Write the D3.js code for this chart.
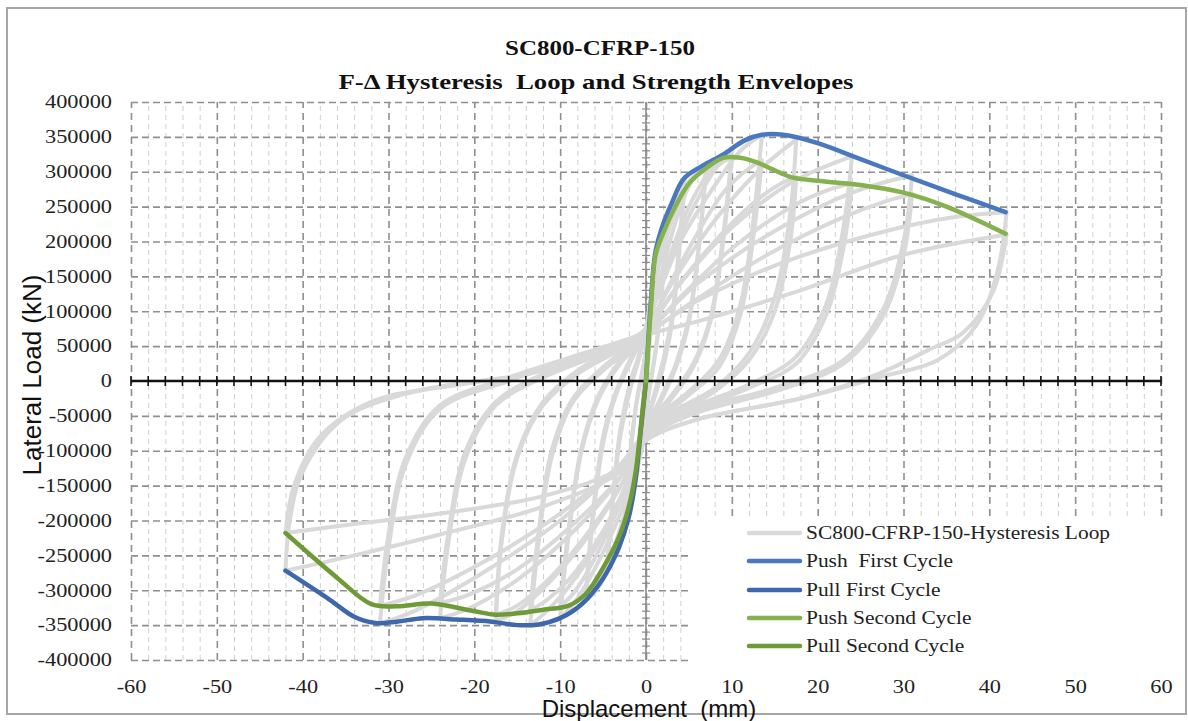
<!DOCTYPE html>
<html><head><meta charset="utf-8">
<script src="https://cdn.jsdelivr.net/npm/d3@7"></script>
<style>
html,body{margin:0;padding:0;background:#fff;}
svg{display:block;}
</style></head>
<body>
<script>
// ---------- Data ----------
const titleLines = ["SC800-CFRP-150", "F-\u0394 Hysteresis  Loop and Strength Envelopes"];
const xTicks = [-60,-50,-40,-30,-20,-10,0,10,20,30,40,50,60];
const yTicks = [-400000,-350000,-300000,-250000,-200000,-150000,-100000,-50000,0,50000,100000,150000,200000,250000,300000,350000,400000];
const xMinorTicks = [-58,-56,-54,-52,-48,-46,-44,-42,-38,-36,-34,-32,-28,-26,-24,-22,-18,-16,-14,-12,-8,-6,-4,-2,2,4,6,8,12,14,16,18,22,24,26,28,32,34,36,38,42,44,46,48,52,54,56,58];
const yMinorTicks = [-390000,-380000,-370000,-360000,-340000,-330000,-320000,-310000,-290000,-280000,-270000,-260000,-240000,-230000,-220000,-210000,-190000,-180000,-170000,-160000,-140000,-130000,-120000,-110000,-90000,-80000,-70000,-60000,-40000,-30000,-20000,-10000,10000,20000,30000,40000,60000,70000,80000,90000,110000,120000,130000,140000,160000,170000,180000,190000,210000,220000,230000,240000,260000,270000,280000,290000,310000,320000,330000,340000,360000,370000,380000,390000];

// Hysteresis loop, one branch per half cycle: [displacement (mm), load]
const loopLevel1 = [
  [[0,0],[0.5,95000],[1.0,175000]],
  [[1.0,175000],[0.6,100000],[0.1,5000],[-0.5,-70000],[-1.0,-130000]],
  [[-1.0,-130000],[-0.6,-70000],[-0.1,10000],[0.5,100000],[1.0,170000]],
  [[1.0,170000],[0.6,95000],[0.1,0],[-0.5,-70000],[-1.0,-125000]],
  [[-1.0,-125000],[-0.5,-50000],[0,30000],[1.0,160000],[1.8,215000],[2.5,240000]]
];
const loopLevel2 = [
  [[2.5,240000],[2.0,160000],[1.3,60000],[0.3,-20000],[-0.8,-110000],[-1.7,-175000],[-2.5,-205000]],
  [[-2.5,-205000],[-2.0,-130000],[-1.2,-40000],[-0.2,30000],[0.8,120000],[1.7,200000],[2.5,232000]],
  [[2.5,232000],[2.0,150000],[1.2,50000],[0.2,-25000],[-0.8,-105000],[-1.7,-170000],[-2.5,-195000]],
  [[-2.5,-195000],[-2.0,-120000],[-1.1,-30000],[0,40000],[1.2,150000],[2.5,220000],[3.5,260000],[4.5,288000]]
];
const loopLevel3 = [
  [[4.5,288000],[3.9,200000],[3.0,90000],[1.8,20000],[0.5,-40000],[-0.8,-110000],[-2.0,-190000],[-3.3,-245000],[-4.5,-268000]],
  [[-4.5,-268000],[-3.9,-180000],[-3.0,-80000],[-1.8,-10000],[-0.5,45000],[0.8,120000],[2.0,200000],[3.3,260000],[4.5,280000]],
  [[4.5,280000],[3.9,190000],[3.0,80000],[1.8,10000],[0.5,-45000],[-0.8,-115000],[-2.0,-185000],[-3.3,-238000],[-4.5,-258000]],
  [[-4.5,-258000],[-3.9,-170000],[-3.0,-70000],[-1.8,0],[-0.5,50000],[1.0,140000],[3.0,230000],[5.0,285000],[7,310000]]
];
const loopLevel4 = [
  [[7,310000],[6.2,200000],[5.0,90000],[3.5,25000],[1.5,-30000],[0,-70000],[-1.5,-150000],[-3.5,-240000],[-5.5,-295000],[-7,-315000]],
  [[-7,-315000],[-6.2,-200000],[-5.0,-90000],[-3.5,-20000],[-1.5,35000],[0,70000],[1.5,140000],[3.5,230000],[5.5,290000],[7,303000]],
  [[7,303000],[6.2,195000],[5.0,85000],[3.5,20000],[1.5,-35000],[0,-75000],[-1.5,-145000],[-3.5,-230000],[-5.5,-285000],[-7,-303000]],
  [[-7,-303000],[-6.2,-190000],[-5.0,-80000],[-3.5,-15000],[-1.5,40000],[0,75000],[2,150000],[5,250000],[8,310000],[10,330000]]
];
const loopLevel5 = [
  [[10,330000],[9.0,210000],[7.5,90000],[5.5,25000],[3,-20000],[0.5,-60000],[-1,-110000],[-3,-190000],[-6,-270000],[-8.5,-320000],[-10,-340000]],
  [[-10,-340000],[-9.0,-220000],[-7.5,-100000],[-5.5,-25000],[-3,25000],[-0.5,60000],[1,110000],[3,180000],[6,260000],[8.5,310000],[10,320000]],
  [[10,320000],[9.0,200000],[7.5,85000],[5.5,20000],[3,-25000],[0.5,-65000],[-1,-105000],[-3,-175000],[-6,-255000],[-8.5,-305000],[-10,-323000]],
  [[-10,-323000],[-9.0,-210000],[-7.5,-95000],[-5.5,-20000],[-3,30000],[-0.5,65000],[1,110000],[4,200000],[8,280000],[11,330000],[13.5,353000]]
];
const loopLevel6 = [
  [[13.5,353000],[12.5,230000],[11,110000],[8.5,30000],[5,-15000],[1.5,-50000],[0,-75000],[-2,-140000],[-5,-220000],[-9,-295000],[-12,-335000],[-13.5,-350000]],
  [[-13.5,-350000],[-12.5,-230000],[-11,-110000],[-8.5,-30000],[-5,15000],[-1.5,50000],[0,70000],[2,120000],[5,190000],[9,270000],[12,305000],[13.5,316000]],
  [[13.5,316000],[12.5,205000],[11,95000],[8.5,20000],[5,-20000],[1.5,-55000],[0,-80000],[-2,-140000],[-5,-215000],[-9,-285000],[-12,-318000],[-13.5,-328000]],
  [[-13.5,-328000],[-12.5,-215000],[-11,-100000],[-8.5,-25000],[-5,20000],[-1.5,55000],[0,75000],[3,140000],[8,230000],[13,300000],[17.5,346000]]
];
const loopLevel7 = [
  [[17.5,346000],[16.8,240000],[15,120000],[12,40000],[8,-10000],[3,-45000],[0,-75000],[-2,-130000],[-6,-210000],[-11,-285000],[-15,-330000],[-17.5,-344000]],
  [[-17.5,-344000],[-16.8,-230000],[-15,-110000],[-12,-35000],[-8,10000],[-3,45000],[0,70000],[3,125000],[8,200000],[13,260000],[16,285000],[17.5,292000]],
  [[17.5,292000],[16.8,200000],[15,100000],[12,30000],[8,-15000],[3,-50000],[0,-80000],[-2,-130000],[-6,-205000],[-11,-280000],[-15,-322000],[-17.5,-335000]],
  [[-17.5,-335000],[-16.8,-220000],[-15,-105000],[-12,-30000],[-8,15000],[-3,50000],[0,75000],[4,140000],[10,220000],[17,285000],[24,322000]]
];
const loopLevel8 = [
  [[24,322000],[23,220000],[21,110000],[17.5,35000],[12,-5000],[5,-40000],[0,-75000],[-2.5,-130000],[-8,-210000],[-15,-285000],[-21,-328000],[-24,-340000]],
  [[-24,-340000],[-23,-230000],[-21,-110000],[-17.5,-35000],[-12,5000],[-5,40000],[0,70000],[4,120000],[10,190000],[17,250000],[21.5,275000],[24,283000]],
  [[24,283000],[23,190000],[21,95000],[17.5,25000],[12,-10000],[5,-45000],[0,-80000],[-2.5,-130000],[-8,-200000],[-15,-270000],[-21,-308000],[-24,-318000]],
  [[-24,-318000],[-23,-215000],[-21,-100000],[-17.5,-30000],[-12,10000],[-5,45000],[0,72000],[6,140000],[15,215000],[24,270000],[31,295000]]
];
const loopLevel9 = [
  [[31,295000],[30,200000],[27.5,100000],[23,30000],[15,-10000],[6,-40000],[0,-75000],[-3,-120000],[-10,-200000],[-19,-275000],[-27,-330000],[-31,-348000]],
  [[-31,-348000],[-30,-240000],[-28,-120000],[-24,-40000],[-16,0],[-6,40000],[0,68000],[5,110000],[14,180000],[23,235000],[28,258000],[31,268000]],
  [[31,268000],[30,180000],[27.5,90000],[23,25000],[15,-15000],[6,-45000],[0,-80000],[-3,-120000],[-10,-190000],[-19,-260000],[-27,-308000],[-31,-322000]],
  [[-31,-322000],[-30,-220000],[-28,-110000],[-24,-35000],[-16,5000],[-6,45000],[0,70000],[6,115000],[16,170000],[28,215000],[36,235000],[42,242000]]
];
const loopLevel10 = [
  [[42,242000],[41,160000],[38.5,80000],[34,30000],[27,5000],[18,-25000],[6,-55000],[0,-85000],[-3,-130000],[-12,-180000],[-24,-220000],[-34,-250000],[-42,-272000]],
  [[-42,-272000],[-41.5,-200000],[-40,-130000],[-35.5,-56000],[-28.5,-20000],[-20.5,-3000],[-12,15000],[-5,44000],[0,66000],[6.4,87000],[18,130000],[29.7,180000],[42,210000]],
  [[42,210000],[40.5,130000],[37,70000],[33,45000],[27,10000],[18,-25000],[6,-55000],[0,-85000],[-3,-125000],[-12,-165000],[-24,-190000],[-34,-205000],[-42,-218000]],
  [[-42,-218000],[-41,-150000],[-38,-80000],[-32,-30000],[-24,-8000],[-16,5000]]
];

// Strength envelopes: [displacement (mm), load]
const pushFirstCycle = [[0,0],[0.6,120000],[1.1,185000],[2.0,225000],[2.9,252000],[4.4,290000],[6.5,308000],[9,325000],[11.5,345000],[13.5,353000],[16,353000],[20,341000],[25,318000],[30,295000],[36,268000],[41.9,242000]];
const pullFirstCycle = [[0,0],[-0.6,-70000],[-1.2,-140000],[-2.0,-195000],[-3.2,-240000],[-5,-283000],[-7.5,-320000],[-10,-340000],[-12.5,-349000],[-15,-350000],[-18,-345000],[-22,-342000],[-26,-340000],[-29,-345000],[-31.5,-347000],[-34,-338000],[-36.8,-314000],[-42,-272000]];
const pushSecondCycle = [[0,0],[0.6,110000],[1.1,180000],[2.0,212000],[3.5,252000],[5,283000],[7,305000],[9,320000],[11,320000],[13,313000],[15,302000],[17,292000],[20,287000],[25,281000],[30,270000],[35,250000],[41.9,211000]];
const pullSecondCycle = [[0,0],[-0.6,-65000],[-1.2,-130000],[-2.0,-180000],[-3.2,-225000],[-5,-268000],[-7,-305000],[-9,-322000],[-12,-328000],[-15,-333000],[-17.5,-335000],[-20,-330000],[-25,-319000],[-29,-323000],[-32,-320000],[-36,-282000],[-42,-218000]];

const legendLabels = ["SC800-CFRP-150-Hysteresis Loop","Push  First Cycle","Pull First Cycle","Push Second Cycle","Pull Second Cycle"];
const legendColors = ["#d9d9d9","#4a78bf","#3f67ac","#86b14f","#6f9a38"];

// ---------- Drawing ----------
const W = 1188, H = 721;
const svg = d3.select("body").append("svg").attr("width", W).attr("height", H);
svg.append("rect").attr("width", W).attr("height", H).attr("fill", "#fff");
svg.append("rect").attr("x", 7).attr("y", 8).attr("width", 1179).attr("height", 706)
  .attr("fill", "none").attr("stroke", "#a6a6a6").attr("stroke-width", 2);

const pL = 131, pR = 1161, pT = 102, pB = 660;
const x = d3.scaleLinear().domain([-60, 60]).range([pL, pR]);
const y = d3.scaleLinear().domain([-400000, 400000]).range([pB, pT]);

const serif = "'Liberation Serif','Times New Roman',serif";
const sans = "'Liberation Sans',Arial,sans-serif";

// widen glyphs horizontally (the original text is rendered wide)
function stretch(sel, k) {
  sel.each(function () {
    const w = this.getComputedTextLength();
    d3.select(this).attr("textLength", w * k).attr("lengthAdjust", "spacingAndGlyphs");
  });
}

// minor vertical grid
svg.append("g").attr("transform", `translate(0,${pB})`)
  .call(d3.axisBottom(x).tickValues(xMinorTicks).tickSize(-(pB - pT)).tickFormat(""))
  .call(g => g.select(".domain").remove())
  .call(g => g.selectAll("line").attr("stroke", "#cfcfcf").attr("stroke-width", 1).attr("stroke-dasharray", "5,4"));

// major vertical grid
svg.append("g").attr("transform", `translate(0,${pB})`)
  .call(d3.axisBottom(x).tickValues(xTicks).tickSize(-(pB - pT)).tickFormat(""))
  .call(g => g.select(".domain").remove())
  .call(g => g.selectAll("line").attr("stroke", "#8f8f8f").attr("stroke-width", 1.6).attr("stroke-dasharray", "7,5"));

// major horizontal grid
svg.append("g").attr("transform", `translate(${pL},0)`)
  .call(d3.axisLeft(y).tickValues(yTicks.filter(v => v !== 0)).tickSize(-(pR - pL)).tickFormat(""))
  .call(g => g.select(".domain").remove())
  .call(g => g.selectAll("line").attr("stroke", "#8f8f8f").attr("stroke-width", 1.6).attr("stroke-dasharray", "7,4"));

// legend background (covers grid)
svg.append("rect").attr("x", 689).attr("y", 517).attr("width", 485).attr("height", 150).attr("fill", "#fff");

// y tick labels
svg.append("g").attr("transform", `translate(${pL},0)`)
  .call(d3.axisLeft(y).tickValues(yTicks).tickSize(0).tickPadding(19).tickFormat(d => String(d)))
  .call(g => g.select(".domain").remove())
  .call(g => g.selectAll("text").attr("font-family", serif).attr("font-size", 18).attr("fill", "#222"))
  .call(g => stretch(g.selectAll("text"), 1.24));

// x tick labels
svg.append("g").attr("transform", `translate(0,${pB})`)
  .call(d3.axisBottom(x).tickValues(xTicks).tickSize(0).tickPadding(20).tickFormat(d => String(d)))
  .call(g => g.select(".domain").remove())
  .call(g => g.selectAll("text").attr("font-family", serif).attr("font-size", 18).attr("fill", "#222"))
  .call(g => stretch(g.selectAll("text"), 1.24));

// vertical axis through x = 0 with minor ticks
svg.append("line").attr("x1", x(0)).attr("x2", x(0)).attr("y1", pT).attr("y2", pB)
  .attr("stroke", "#8a8a8a").attr("stroke-width", 1.6);
svg.append("g").selectAll("line").data(yMinorTicks).join("line")
  .attr("x1", x(0) - 4).attr("x2", x(0) + 4).attr("y1", d => y(d)).attr("y2", d => y(d))
  .attr("stroke", "#8a8a8a").attr("stroke-width", 1.2);

// hysteresis loop
const line = d3.line().x(d => x(d[0])).y(d => y(d[1])).curve(d3.curveCatmullRom.alpha(0.5));
const loops = [].concat(loopLevel1, loopLevel2, loopLevel3, loopLevel4, loopLevel5, loopLevel6, loopLevel7, loopLevel8, loopLevel9, loopLevel10);
svg.append("g").selectAll("path").data(loops).join("path")
  .attr("d", line).attr("fill", "none").attr("stroke", legendColors[0]).attr("stroke-width", 4)
  .attr("stroke-linejoin", "round").attr("stroke-linecap", "round");

// horizontal axis through y = 0 with ticks
svg.append("line").attr("x1", pL).attr("x2", pR).attr("y1", y(0)).attr("y2", y(0))
  .attr("stroke", "#111").attr("stroke-width", 2.5);
svg.append("g").selectAll("line").data(xMinorTicks.concat(xTicks)).join("line")
  .attr("x1", d => x(d)).attr("x2", d => x(d)).attr("y1", y(0) - 5).attr("y2", y(0) + 5)
  .attr("stroke", "#111").attr("stroke-width", 1.6);

// envelopes
const envLine = d3.line().x(d => x(d[0])).y(d => y(d[1])).curve(d3.curveCatmullRom.alpha(0.5));
const envelopes = [pullFirstCycle, pushFirstCycle, pullSecondCycle, pushSecondCycle];
const envColors = [legendColors[2], legendColors[1], legendColors[4], legendColors[3]];
svg.append("g").selectAll("path").data(envelopes).join("path")
  .attr("d", envLine).attr("fill", "none").attr("stroke", (d, i) => envColors[i]).attr("stroke-width", 4.5)
  .attr("stroke-linecap", "round").attr("stroke-linejoin", "round");

// legend
const lg = svg.append("g");
const rowY = [533, 561, 590, 618, 646];
legendLabels.forEach((t, i) => {
  lg.append("line").attr("x1", 749).attr("x2", 800).attr("y1", rowY[i]).attr("y2", rowY[i])
    .attr("stroke", legendColors[i]).attr("stroke-width", 4.5).attr("stroke-linecap", "round");
  lg.append("text").attr("x", 806).attr("y", rowY[i]).attr("dy", "0.35em")
    .attr("font-family", serif).attr("font-size", 18).attr("fill", "#222")
    .style("white-space", "pre").text(t);
});
stretch(lg.selectAll("text"), 1.19);

// title
svg.append("text").attr("x", 600).attr("y", 55).attr("text-anchor", "middle")
  .attr("font-family", serif).attr("font-weight", "bold").attr("font-size", 22).attr("fill", "#111")
  .attr("textLength", 190).attr("lengthAdjust", "spacingAndGlyphs")
  .text(titleLines[0]);
svg.append("text").attr("x", 596).attr("y", 89).attr("text-anchor", "middle")
  .attr("font-family", serif).attr("font-weight", "bold").attr("font-size", 22).attr("fill", "#111")
  .attr("textLength", 515).attr("lengthAdjust", "spacingAndGlyphs")
  .style("white-space", "pre").text(titleLines[1]);

// axis titles
svg.append("text").attr("x", 649).attr("y", 717).attr("text-anchor", "middle")
  .attr("font-family", sans).attr("font-size", 24).attr("fill", "#111")
  .style("white-space", "pre").text("Displacement  (mm)");
svg.append("text").attr("transform", "translate(41,375) rotate(-90)").attr("text-anchor", "middle")
  .attr("font-family", sans).attr("font-size", 26).attr("fill", "#111")
  .text("Lateral Load (kN)");
</script>
</body></html>
